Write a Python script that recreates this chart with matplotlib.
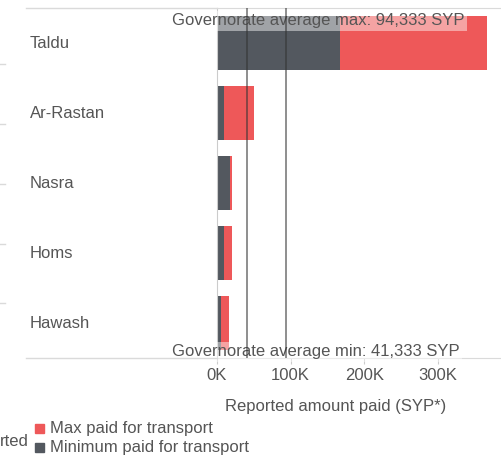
import matplotlib.pyplot as plt
from matplotlib.lines import Line2D
from matplotlib.patches import Rectangle
from matplotlib.transforms import blended_transform_factory

plt.rcParams['font.family'] = ['Liberation Sans', 'DejaVu Sans']

# данные
places = ['Taldu', 'Ar-Rastan', 'Nasra', 'Homs', 'Hawash']
min_paid = [167000, 10000, 17000, 10000, 6000]
max_paid = [367000, 50000, 21000, 20000, 16000]
avg_min = 41333
avg_max = 94333
ticks = [0, 100000, 200000, 300000]

red = '#EE5859'
dark = '#53585F'
txt = '#555555'
light = '#DADADA'

W, H = 502, 457
fig = plt.figure(figsize=(W / 100, H / 100), dpi=100)

x0, x1 = 217, 502  # левая/правая граница области (px)
ytop, ybot = 8, 358
ax = fig.add_axes([x0 / W, 1 - ybot / H, (x1 - x0) / W, (ybot - ytop) / H])

pos = list(range(len(places)))
ax.barh(pos, max_paid, height=0.76, color=red, zorder=2)  # максимум
ax.barh(pos, min_paid, height=0.76, color=dark, zorder=2)  # минимум поверх

px_per_k = 221 / 300000
ax.set_xlim(0, (x1 - 216.7) / px_per_k)
ax.set_ylim(len(places) - 0.5, -0.5)

# средние линии
for v in (avg_min, avg_max):
    ax.axvline(v, color='#333333', alpha=0.55, lw=1.4, zorder=4)

# подписи средних
tr = ax.get_xaxis_transform()
x_lab = (172 - 216.7) / px_per_k
box = dict(boxstyle='square,pad=0.15', facecolor='white', edgecolor='none', alpha=0.45)
ax.text(x_lab, 1 - 17 / 350, f'Governorate average max: {avg_max:,} SYP',
        transform=tr, ha='left', va='baseline', fontsize=12, color=txt,
        bbox=box, zorder=3)
ax.text(x_lab, 2 / 350, f'Governorate average min: {avg_min:,} SYP',
        transform=tr, ha='left', va='baseline', fontsize=12, color=txt,
        bbox=box, zorder=3)

# названия строк
ytr = blended_transform_factory(fig.transFigure, ax.transData)
for i, name in enumerate(places):
    fig.text(30 / W, i, name, transform=ytr, ha='left', va='center',
             fontsize=12, color=txt)

# оси
ax.set_yticks([])
ax.set_xticks(ticks)
ax.set_xticklabels([f'{t // 1000}K' for t in ticks])
ax.tick_params(axis='x', length=4, color='#CCCCCC', labelsize=12,
               labelcolor=txt, pad=3)
for s in ('top', 'bottom'):
    ax.spines[s].set_color(light)
ax.spines['right'].set_visible(False)
ax.spines['left'].set_color('#CCCCCC')

# продолжение линий влево
for yy in (ytop, ybot):
    fig.add_artist(Line2D([26 / W, x0 / W], [1 - yy / H, 1 - yy / H],
                          color=light, lw=1))
for yy in (64, 124, 184, 244, 303):
    fig.add_artist(Line2D([0, 5 / W], [1 - yy / H, 1 - yy / H],
                          color=light, lw=1))

fig.text(335.5 / W, 1 - 407 / H, 'Reported amount paid (SYP*)',
         ha='center', va='center', fontsize=12, color=txt)

# легенда
for yy, c, lab in ((428.5, red, 'Max paid for transport'),
                   (447.5, dark, 'Minimum paid for transport')):
    fig.add_artist(Rectangle((35 / W, 1 - (yy + 4.5) / H), 9 / W, 9 / H,
                             transform=fig.transFigure, color=c))
    fig.text(50 / W, 1 - yy / H, lab, ha='left', va='center',
             fontsize=12, color=txt)
fig.text(0, 1 - 442 / H, 'rted', ha='left', va='center', fontsize=12, color=txt)

plt.savefig('out.png', dpi=100)
